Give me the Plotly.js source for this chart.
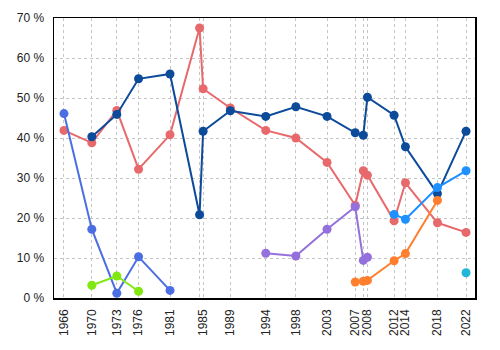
<!DOCTYPE html>
<html>
<head>
<meta charset="utf-8">
<script src="https://cdn.plot.ly/plotly-3.0.1.min.js"></script>
<style>html,body{margin:0;padding:0;background:#fff;}#chart{width:500px;height:350px;}</style>
</head>
<body>
<div id="chart"></div>
<script>
// Election dates (x) and tick labels
const electionDates = ['1966-06-05','1970-04-29','1973-10-29','1976-11-15','1981-04-13','1985-06-03','1985-12-02','1989-09-25','1994-09-12','1998-11-30','2003-04-14','2007-03-26','2008-05-12','2008-12-08','2012-09-04','2014-04-07','2018-10-01','2022-10-03'];
const tickLabels = ['1966','1970','1973','1976','1981','','1985','1989','1994','1998','2003','2007','','2008','2012','2014','2018','2022'];
const yTickVals = [0, 10, 20, 30, 40, 50, 60, 70];
const yTickText = ['0 %', '10 %', '20 %', '30 %', '40 %', '50 %', '60 %', '70 %'];

// Vote shares (%), null = party not running
const redSeries      = [41.9, 38.8, 46.9, 32.2, 40.8, 67.5, 52.3, 47.5, 41.9, 40.0, 33.9, 23.2, 31.8, 30.7, 19.3, 28.8, 18.8, 16.4];
const royalBlue      = [46.1, 17.2, 1.2, 10.3, 1.9, null, null, null, null, null, null, null, null, null, null, null, null, null];
const limeSeries     = [null, 3.2, 5.5, 1.7, null, null, null, null, null, null, null, null, null, null, null, null, null, null];
const purpleSeries   = [null, null, null, null, null, null, null, null, 11.2, 10.5, 17.2, 22.8, 9.4, 10.2, null, null, null, null];
const darkBlue       = [null, 40.3, 45.9, 54.8, 56.0, 20.8, 41.7, 46.8, 45.4, 47.8, 45.4, 41.3, 40.7, 50.2, 45.7, 37.8, 26.1, 41.7];
const orangeSeries   = [null, null, null, null, null, null, null, null, null, null, null, 4.0, 4.2, 4.4, 9.3, 11.1, 24.4, null];
const lightBlue      = [null, null, null, null, null, null, null, null, null, null, null, null, null, null, 20.9, 19.7, 27.6, 31.8];
const cyanSeries     = [null, null, null, null, null, null, null, null, null, null, null, null, null, null, null, null, null, 6.3];

const seriesList = [
  {y: redSeries, color: '#e8696b'},
  {y: royalBlue, color: '#4b6ee3'},
  {y: limeSeries, color: '#80e810'},
  {y: purpleSeries, color: '#9370db'},
  {y: darkBlue, color: '#0c4a9a'},
  {y: orangeSeries, color: '#ff7f2e'},
  {y: lightBlue, color: '#1e90ff'},
  {y: cyanSeries, color: '#22b6d8'}
];

const traces = seriesList.map(s => ({
  type: 'scatter',
  mode: 'lines+markers',
  x: electionDates,
  y: s.y,
  connectgaps: false,
  line: {color: s.color, width: 2},
  marker: {color: s.color, size: 9},
  hoverinfo: 'x+y'
}));

const layout = {
  width: 500,
  height: 350,
  margin: {l: 54, r: 25, t: 18, b: 52},
  paper_bgcolor: '#ffffff',
  plot_bgcolor: '#ffffff',
  showlegend: false,
  font: {family: 'Liberation Sans, Arial, sans-serif', size: 12, color: '#222'},
  xaxis: {
    type: 'date',
    range: ['1965-01-10', '2024-01-05'],
    tickmode: 'array',
    tickvals: electionDates,
    ticktext: tickLabels,
    tickangle: -90,
    tickfont: {size: 12, color: '#222'},
    ticklabelstandoff: 5,
    showgrid: true,
    gridcolor: '#c4c4c4',
    griddash: 'dot',
    gridwidth: 1,
    showline: true,
    linecolor: '#000',
    linewidth: 1.5,
    mirror: true,
    zeroline: false,
    ticks: ''
  },
  yaxis: {
    range: [0, 70],
    tickmode: 'array',
    tickvals: yTickVals,
    ticktext: yTickText,
    tickfont: {size: 12, color: '#222'},
    ticklabelstandoff: 6,
    showgrid: true,
    gridcolor: '#c4c4c4',
    griddash: 'dot',
    gridwidth: 1,
    showline: true,
    linecolor: '#000',
    linewidth: 1.5,
    mirror: true,
    zeroline: false,
    ticks: ''
  }
};

Plotly.newPlot('chart', traces, layout, {staticPlot: true, displayModeBar: false});
</script>
</body>
</html>
